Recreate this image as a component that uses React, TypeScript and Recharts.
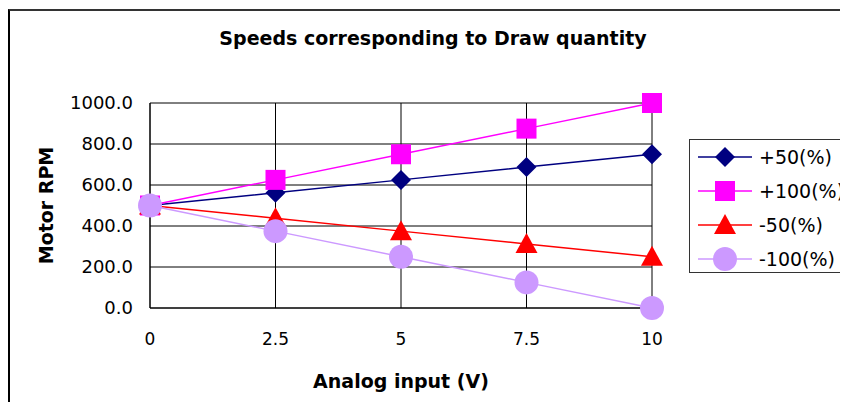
import { LineChart, Line, CartesianGrid, XAxis, YAxis, Legend } from "recharts";

const inputs = ["0", "2.5", "5", "7.5", "10"];
const plus50 = [500, 562.5, 625, 687.5, 750];
const plus100 = [500, 625, 750, 875, 1000];
const minus50 = [500, 437.5, 375, 312.5, 250];
const minus100 = [500, 375, 250, 125, 0];
const rpmTicks = [0, 200, 400, 600, 800, 1000];

const series = [
  { key: "p50", name: "+50(%)", color: "#000080", shape: "diamond" },
  { key: "p100", name: "+100(%)", color: "#FF00FF", shape: "square" },
  { key: "m50", name: "-50(%)", color: "#FF0000", shape: "triangle" },
  { key: "m100", name: "-100(%)", color: "#CC99FF", shape: "circle" },
];

const data = inputs.map((v, i) => ({
  v,
  p50: plus50[i],
  p100: plus100[i],
  m50: minus50[i],
  m100: minus100[i],
}));

const boldFont = { fontFamily: "DejaVu Sans", fontWeight: "bold", fontSize: 19, fill: "#000" };

const Marker = ({ cx, cy, shape, color }: any) => {
  if (cx == null || cy == null) return null;
  if (shape === "diamond")
    return <polygon points={`${cx},${cy - 10} ${cx + 10},${cy} ${cx},${cy + 10} ${cx - 10},${cy}`} fill={color} />;
  if (shape === "square")
    return <rect x={cx - 10} y={cy - 10} width={20} height={20} fill={color} />;
  if (shape === "triangle")
    return <polygon points={`${cx},${cy - 11} ${cx + 11},${cy + 9} ${cx - 11},${cy + 9}`} fill={color} />;
  return <circle cx={cx} cy={cy} r={12} fill={color} />;
};

const LegendBox = () => (
  <div
    style={{
      width: 158,
      height: 134,
      border: "1px solid #333",
      background: "#fff",
      boxSizing: "border-box",
      paddingTop: 0,
      marginTop: -2,
      overflow: "visible",
    }}
  >
    {series.map((s) => (
      <div key={s.key} style={{ display: "flex", alignItems: "center", height: 34, whiteSpace: "nowrap" }}>
        <svg width={68} height={30} style={{ flex: "none" }}>
          <line x1={8} x2={62} y1={15} y2={15} stroke={s.color} strokeWidth={1.5} />
          <Marker cx={35} cy={15} shape={s.shape} color={s.color} />
        </svg>
        <span style={{ fontFamily: "DejaVu Sans", fontSize: 19, color: "#000", marginLeft: 1, flex: "none" }}>
          {s.name}
        </span>
      </div>
    ))}
  </div>
);

export default function App() {
  return (
    <div style={{ margin: -8, width: 848, height: 410, position: "relative", overflow: "hidden", background: "#fff" }}>
      <div
        style={{
          position: "absolute",
          left: 8,
          top: 9,
          width: 900,
          height: 500,
          borderLeft: "2px solid #000",
          borderTop: "2px solid #333",
        }}
      />
      <div
        style={{
          position: "absolute",
          left: 0,
          top: 27,
          width: 866,
          textAlign: "center",
          fontFamily: "DejaVu Sans",
          fontWeight: "bold",
          fontSize: 19,
          color: "#000",
        }}
      >
        Speeds corresponding to Draw quantity
      </div>
      <div style={{ position: "absolute", left: 0, top: 0 }}>
        <LineChart
          width={848}
          height={410}
          data={data}
          margin={{ top: 103, right: 37, bottom: 0, left: 0 }}
          style={{ fontFamily: "DejaVu Sans" }}
        >
          <CartesianGrid stroke="#000" strokeWidth={1} />
          <XAxis
            dataKey="v"
            height={102}
            tickLine={false}
            axisLine={{ stroke: "#000" }}
            tick={{ fill: "#000", fontSize: 17 }}
            tickMargin={19}
            label={{
              value: "Analog input (V)",
              position: "insideBottom",
              offset: 22,
              style: boldFont,
            }}
          />
          <YAxis
            width={150}
            domain={[0, 1000]}
            ticks={rpmTicks}
            tickFormatter={(t: number) => t.toFixed(1)}
            tickLine={false}
            axisLine={{ stroke: "#000" }}
            tick={{ fill: "#000", fontSize: 18 }}
            tickMargin={11}
            label={{
              value: "Motor RPM",
              angle: -90,
              position: "insideLeft",
              offset: 46,
              style: { ...boldFont, textAnchor: "middle" },
            }}
          />
          <Legend
            layout="vertical"
            align="right"
            verticalAlign="top"
            content={<LegendBox />}
            wrapperStyle={{ left: 689, top: 141, right: "auto", width: 159 }}
          />
          {series.map((s) => (
            <Line
              key={s.key}
              dataKey={s.key}
              name={s.name}
              stroke={s.color}
              strokeWidth={1.5}
              isAnimationActive={false}
              dot={(p: any) => <Marker key={`${s.key}-${p.index}`} cx={p.cx} cy={p.cy} shape={s.shape} color={s.color} />}
              activeDot={false}
            />
          ))}
        </LineChart>
      </div>
    </div>
  );
}
